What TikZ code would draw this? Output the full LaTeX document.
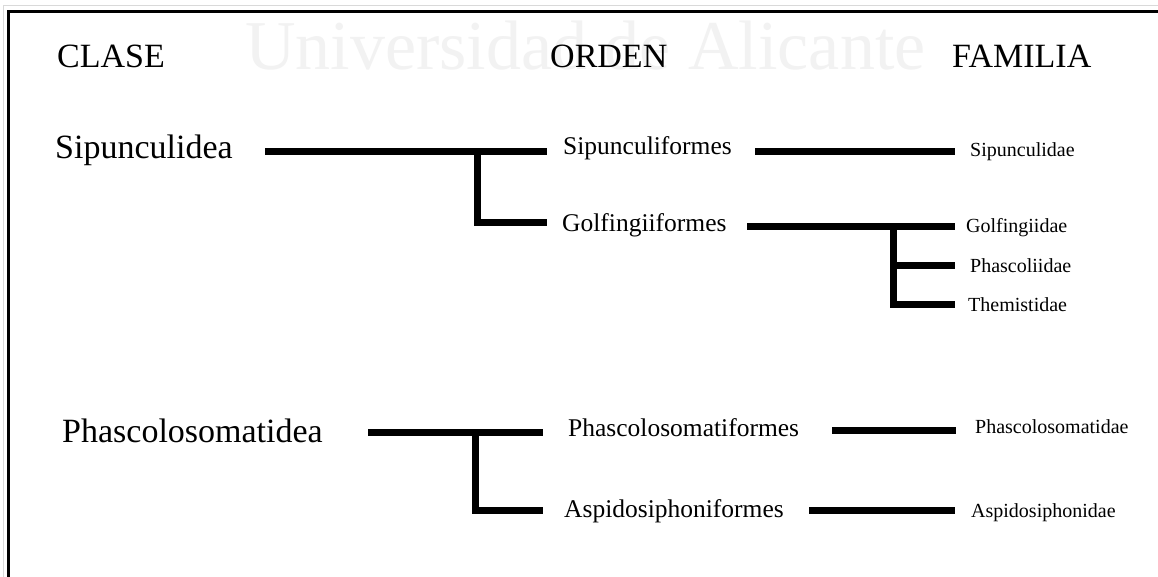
\documentclass[tikz,border=0pt]{standalone}
\usepackage{fontspec}
\setmainfont{Liberation Serif}
\begin{document}
\begin{tikzpicture}[x=1pt,y=-1pt,
  branch/.style={line width=7pt, line cap=butt, line join=miter},
  framerule/.style={line width=3pt, black},
  txt/.style={anchor=base west, inner sep=0pt},
  hdr/.style={txt, font=\fontsize{34}{40}\selectfont},
  cls/.style={txt, font=\fontsize{34}{40}\selectfont},
  ord/.style={txt, font=\fontsize{25.5}{30}\selectfont},
  fam/.style={txt, font=\fontsize{20}{24}\selectfont}]
\useasboundingbox (0,0) rectangle (1158,577);
\fill[white] (0,0) rectangle (1158,577);
% watermark
\node[txt, text=black!5, font=\fontsize{70}{76}\selectfont] (wm) at (245,70) {Universidad de Alicante};
% frame
\draw[black!15, line width=1pt] (3,577) -- (3,6) -- (1158,6);
\draw[framerule] (8,577) -- (8,12) -- (1158,12);
% headers
\node[hdr] (clase) at (57,68) {CLASE};
\node[hdr] (orden) at (550,68) {ORDEN};
\node[hdr] (familia) at (952,68) {FAMILIA};
% classes
\node[cls] (sipcl) at (55,159) {Sipunculidea};
\node[cls] (phacl) at (62,442) {Phascolosomatidea};
% orders
\node[ord] (sipor) at (563,155) {Sipunculiformes};
\node[ord] (golor) at (562,232) {Golfingiiformes};
\node[ord] (phaor) at (568,436) {Phascolosomatiformes};
\node[ord] (aspor) at (564,517) {Aspidosiphoniformes};
% families
\node[fam] (sipfa) at (970,157) {Sipunculidae};
\node[fam] (golfa) at (966,233) {Golfingiidae};
\node[fam] (phcfa) at (970,272) {Phascoliidae};
\node[fam] (thefa) at (968,311) {Themistidae};
\node[fam] (phafa) at (975,433) {Phascolosomatidae};
\node[fam] (aspfa) at (971,517) {Aspidosiphonidae};
% connector end points
\coordinate (a0) at (265,152);
\coordinate (a1) at (547,152);
\coordinate (aj) at (477,152);
\coordinate (ab) at (477,223);
\coordinate (a2) at (547,223);
\coordinate (b0) at (755,152);
\coordinate (b1) at (955,152);
\coordinate (c0) at (747,227);
\coordinate (c1) at (955,227);
\coordinate (cj) at (893,227);
\coordinate (cm) at (893,265);
\coordinate (cb) at (893,304);
\coordinate (c2) at (955,265);
\coordinate (c3) at (955,304);
\coordinate (d0) at (368,432);
\coordinate (d1) at (543,432);
\coordinate (dj) at (475,432);
\coordinate (db) at (475,510);
\coordinate (d2) at (543,510);
\coordinate (e0) at (832,430);
\coordinate (e1) at (956,430);
\coordinate (f0) at (809,510);
\coordinate (f1) at (955,510);
% connectors
\draw[branch] (a0) -- (a1);
\draw[branch] (aj) -- (ab) -- (a2);
\draw[branch] (b0) -- (b1);
\draw[branch] (c0) -- (c1);
\draw[branch] (cj) -- (cb) -- (c3);
\draw[branch] (cm) -- (c2);
\draw[branch] (d0) -- (d1);
\draw[branch] (dj) -- (db) -- (d2);
\draw[branch] (e0) -- (e1);
\draw[branch] (f0) -- (f1);
\end{tikzpicture}
\end{document}
